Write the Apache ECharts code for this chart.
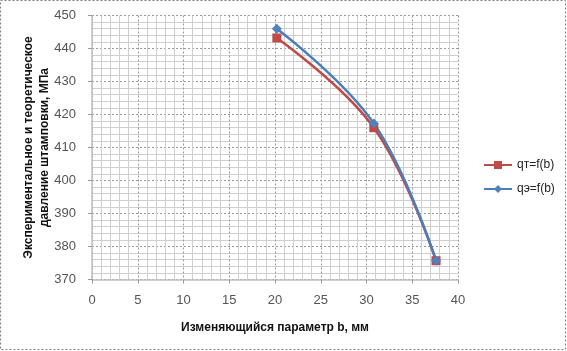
<!DOCTYPE html>
<html><head><meta charset="utf-8">
<script src="https://cdn.jsdelivr.net/npm/echarts@6/dist/echarts.min.js"></script>
<style>html,body{margin:0;padding:0;background:#fff}#c{width:567px;height:351px}</style>
</head><body><div id="c"></div>
<script>
var bValues = [20.2, 30.8, 37.6];
var qTheory = [443.2, 416.0, 375.7];
var qExp = [446.0, 417.3, 375.7];
var seriesNames = ['qт=f(b)', 'qэ=f(b)'];
var xTitle = 'Изменяющийся параметр b, мм';
var yTitle = 'Экспериментальное и теоретическое\nдавление штамповки, МПа';

function pairs(xs, ys){ return xs.map(function(x,i){return [x, ys[i]];}); }
var chart = echarts.init(document.getElementById('c'));
var font = 'Liberation Sans, Arial, sans-serif';
chart.setOption({
  animation:false,
  textStyle:{fontFamily:font},
  graphic:[{type:'rect',shape:{x:0.5,y:0.5,width:565,height:349},style:{fill:null,stroke:'#808080',lineWidth:1,lineDash:[2,2]}}],
  grid:{left:92,right:109,top:15.5,bottom:71.5},
  legend:{orient:'vertical',left:478,top:154,itemGap:12,itemWidth:28,itemHeight:10,
    textStyle:{fontSize:12,color:'#222',fontFamily:font},data:seriesNames},
  xAxis:{type:'value',min:0,max:40,interval:5,
    name:xTitle,nameLocation:'middle',nameGap:42,
    nameTextStyle:{fontWeight:'bold',fontSize:12,color:'#111',fontFamily:font},
    axisLine:{show:true,onZero:false,lineStyle:{color:'#bfbfbf',width:1.5}},
    axisTick:{show:true,length:4,lineStyle:{color:'#999'}},
    axisLabel:{fontSize:13,color:'#555',margin:14},
    splitLine:{show:true,lineStyle:{color:'#9a9a9a',type:[2,2],width:1}},
    minorTick:{show:false,splitNumber:5},
    minorSplitLine:{show:true,lineStyle:{color:'#cfcfcf',width:1}}},
  yAxis:{type:'value',min:370,max:450,interval:10,
    name:yTitle,nameLocation:'middle',nameGap:39,nameMoveOverlap:false,
    nameTextStyle:{fontWeight:'bold',fontSize:12,color:'#111',lineHeight:16,fontFamily:font},
    axisLine:{show:true,lineStyle:{color:'#bfbfbf',width:1.5}},
    axisTick:{show:true,length:4,lineStyle:{color:'#999'}},
    axisLabel:{fontSize:13,color:'#555',margin:16},
    splitLine:{show:true,lineStyle:{color:'#9a9a9a',type:[2,2],width:1}},
    minorTick:{show:false,splitNumber:5},
    minorSplitLine:{show:true,lineStyle:{color:'#cfcfcf',width:1}}},
  series:[
    {name:seriesNames[0],type:'line',smooth:0.4,data:pairs(bValues,qTheory),
     symbol:'rect',symbolSize:9,
     lineStyle:{color:'#BE4B48',width:2.5},itemStyle:{color:'#BE4B48'}},
    {name:seriesNames[1],type:'line',smooth:0.4,data:pairs(bValues,qExp),
     symbol:'diamond',symbolSize:10,
     lineStyle:{color:'#4A7EBB',width:2.5},itemStyle:{color:'#4F81BD'}}
  ]
});
</script></body></html>
